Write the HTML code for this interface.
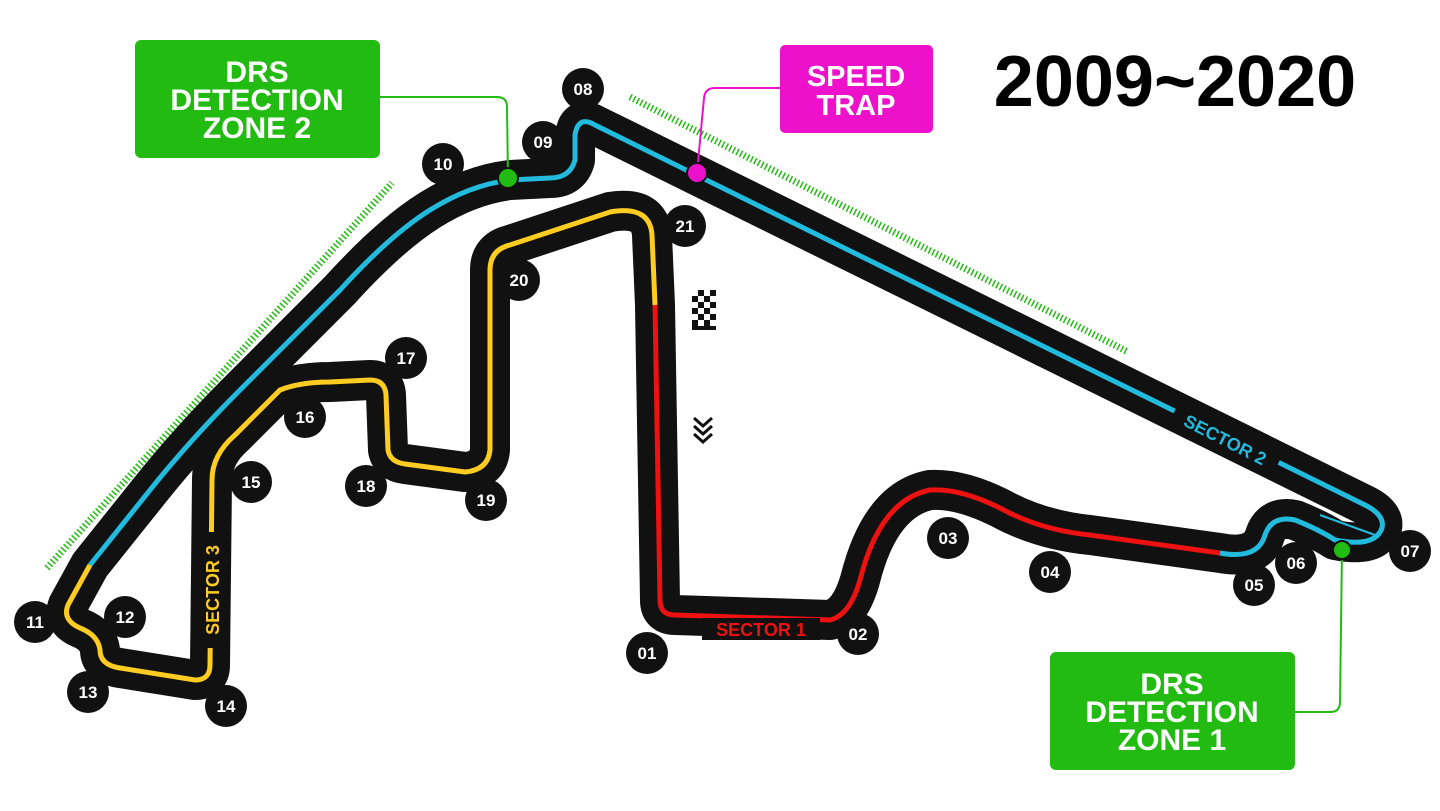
<!DOCTYPE html>
<html><head><meta charset="utf-8"><style>
html,body{margin:0;padding:0;background:#fff;}
svg{display:block;}
text{font-family:"Liberation Sans",sans-serif;font-weight:bold;}
</style></head><body>
<svg width="1440" height="811" viewBox="0 0 1440 811" xmlns="http://www.w3.org/2000/svg">
<rect width="1440" height="811" fill="#fff"/>
<!-- DRS hatch lines -->
<line x1="47" y1="568" x2="392" y2="183" stroke="#22bb11" stroke-width="7" stroke-dasharray="1.5,2.5"/>
<line x1="630" y1="97" x2="1128" y2="352" stroke="#22bb11" stroke-width="7" stroke-dasharray="1.5,2.5"/>
<!-- track outline -->
<path id="trk" d="M675,615 L830,620 Q850,615 860,580 Q880,500 930,490 Q960,488 1000,508 Q1040,530 1090,535 L1220,553 Q1258,560 1265,535 Q1272,515 1295,520 Q1320,530 1335,540 Q1375,548 1382,528 Q1385,515 1365,505 L595,125 Q578,115 575,135 L575,160 Q570,178 550,178 L510,180 Q470,185 430,210 Q390,235 340,290 L240,390 Q190,440 150,490 L90,565 L68,605 Q62,620 80,628 Q98,635 100,650 Q100,665 120,668 L195,680 Q210,680 210,665 L212,480 Q212,455 235,435 L280,390 Q300,382 330,382 L370,380 Q385,380 386,395 L388,450 Q390,462 405,464 L465,472 Q488,470 490,450 L490,270 Q490,250 510,245 L610,212 Q650,205 652,235 L655,305 L660,600 Q660,615 675,615 Z" fill="none" stroke="#111" stroke-width="40" stroke-linejoin="round"/>
<!-- colored center lines -->
<path d="M655,305 L660,600 Q660,615 675,615 L830,620 Q850,615 860,580 Q880,500 930,490 Q960,488 1000,508 Q1040,530 1090,535 L1220,553" fill="none" stroke="#ee1111" stroke-width="5"/>
<path d="M1220,553 Q1258,560 1265,535 Q1272,515 1295,520 Q1320,530 1335,540 Q1375,548 1382,528 Q1385,515 1365,505 L595,125 Q578,115 575,135 L575,160 Q570,178 550,178 L510,180 Q470,185 430,210 Q390,235 340,290 L240,390 Q190,440 150,490 L90,565" fill="none" stroke="#22bbdd" stroke-width="5"/>
<path d="M1320,515 L1375,535" stroke="#22bbdd" stroke-width="2" fill="none"/>
<path d="M90,565 L68,605 Q62,620 80,628 Q98,635 100,650 Q100,665 120,668 L195,680 Q210,680 210,665 L212,480 Q212,455 235,435 L280,390 Q300,382 330,382 L370,380 Q385,380 386,395 L388,450 Q390,462 405,464 L465,472 Q488,470 490,450 L490,270 Q490,250 510,245 L610,212 Q650,205 652,235 L655,305" fill="none" stroke="#ffcc22" stroke-width="5"/>
<!-- sector labels -->
<rect x="702" y="618" width="118" height="22" fill="#111"/>
<text x="761" y="636" font-size="18" fill="#ee1111" text-anchor="middle">SECTOR 1</text>
<g transform="translate(1225,440) rotate(27)"><rect x="-58" y="-12" width="116" height="22" fill="#111"/><text x="0" y="6" font-size="18" fill="#22bbdd" text-anchor="middle">SECTOR 2</text></g>
<g transform="translate(213,590) rotate(-90)"><rect x="-58" y="-12" width="116" height="22" fill="#111"/><text x="0" y="6" font-size="18" fill="#ffcc22" text-anchor="middle">SECTOR 3</text></g>
<!-- checkered flag -->
<g>
<rect x="692" y="290" width="24" height="40" fill="#111"/>
<g fill="#fff">
<rect x="692" y="290" width="6" height="6"/><rect x="704" y="290" width="6" height="6"/>
<rect x="698" y="296" width="6" height="6"/><rect x="710" y="296" width="6" height="6"/>
<rect x="692" y="302" width="6" height="6"/><rect x="704" y="302" width="6" height="6"/>
<rect x="698" y="308" width="6" height="6"/><rect x="710" y="308" width="6" height="6"/>
<rect x="692" y="314" width="6" height="6"/><rect x="704" y="314" width="6" height="6"/>
<rect x="698" y="320" width="6" height="6"/><rect x="710" y="320" width="6" height="6"/>
</g></g>
<path d="M694,418 L703,426 L712,418 M694,426 L703,434 L712,426 M694,434 L703,442 L712,434" stroke="#111" stroke-width="3" fill="none"/>
<!-- connectors -->
<path d="M380,97 L497,97 Q507,97 507,107 L508,178" stroke="#22bb11" stroke-width="2" fill="none"/>
<circle cx="508" cy="178" r="10" fill="#22bb11" stroke="#111" stroke-width="2"/>
<path d="M780,88 L715,88 Q705,88 704,98 L697,173" stroke="#ee11cc" stroke-width="2" fill="none"/>
<circle cx="697" cy="173" r="10" fill="#ee11cc" stroke="#111" stroke-width="2"/>
<path d="M1295,712 L1330,712 Q1340,712 1340,702 L1342,550" stroke="#22bb11" stroke-width="2" fill="none"/>
<circle cx="1342" cy="550" r="9" fill="#22bb11" stroke="#111" stroke-width="2"/>
<!-- boxes -->
<rect x="135" y="40" width="245" height="118" rx="6" fill="#22bb11"/>
<text font-size="30" fill="#fff" text-anchor="middle"><tspan x="257" y="82">DRS</tspan><tspan x="257" y="110">DETECTION</tspan><tspan x="257" y="138">ZONE 2</tspan></text>
<rect x="780" y="45" width="153" height="88" rx="5" fill="#ee11cc"/>
<text font-size="29" fill="#fff" text-anchor="middle"><tspan x="856" y="86">SPEED</tspan><tspan x="856" y="115">TRAP</tspan></text>
<rect x="1050" y="652" width="245" height="118" rx="6" fill="#22bb11"/>
<text font-size="30" fill="#fff" text-anchor="middle"><tspan x="1172" y="694">DRS</tspan><tspan x="1172" y="722">DETECTION</tspan><tspan x="1172" y="750">ZONE 1</tspan></text>
<text x="1175" y="106" font-size="72" fill="#000" text-anchor="middle">2009~2020</text>
<!-- corner numbers -->
<g font-size="17" fill="#fff" text-anchor="middle">
<circle cx="647" cy="653" r="21" fill="#111"/><text x="647" y="659">01</text>
<circle cx="858" cy="634" r="21" fill="#111"/><text x="858" y="640">02</text>
<circle cx="948" cy="538" r="21" fill="#111"/><text x="948" y="544">03</text>
<circle cx="1050" cy="572" r="21" fill="#111"/><text x="1050" y="578">04</text>
<circle cx="1254" cy="585" r="21" fill="#111"/><text x="1254" y="591">05</text>
<circle cx="1296" cy="563" r="21" fill="#111"/><text x="1296" y="569">06</text>
<circle cx="1410" cy="551" r="21" fill="#111"/><text x="1410" y="557">07</text>
<circle cx="583" cy="89" r="21" fill="#111"/><text x="583" y="95">08</text>
<circle cx="543" cy="142" r="21" fill="#111"/><text x="543" y="148">09</text>
<circle cx="443" cy="164" r="21" fill="#111"/><text x="443" y="170">10</text>
<circle cx="35" cy="622" r="21" fill="#111"/><text x="35" y="628">11</text>
<circle cx="125" cy="617" r="21" fill="#111"/><text x="125" y="623">12</text>
<circle cx="88" cy="692" r="21" fill="#111"/><text x="88" y="698">13</text>
<circle cx="226" cy="706" r="21" fill="#111"/><text x="226" y="712">14</text>
<circle cx="251" cy="482" r="21" fill="#111"/><text x="251" y="488">15</text>
<circle cx="305" cy="417" r="21" fill="#111"/><text x="305" y="423">16</text>
<circle cx="406" cy="358" r="21" fill="#111"/><text x="406" y="364">17</text>
<circle cx="366" cy="486" r="21" fill="#111"/><text x="366" y="492">18</text>
<circle cx="486" cy="500" r="21" fill="#111"/><text x="486" y="506">19</text>
<circle cx="519" cy="280" r="21" fill="#111"/><text x="519" y="286">20</text>
<circle cx="685" cy="226" r="21" fill="#111"/><text x="685" y="232">21</text>
</g>
</svg>
</body></html>
